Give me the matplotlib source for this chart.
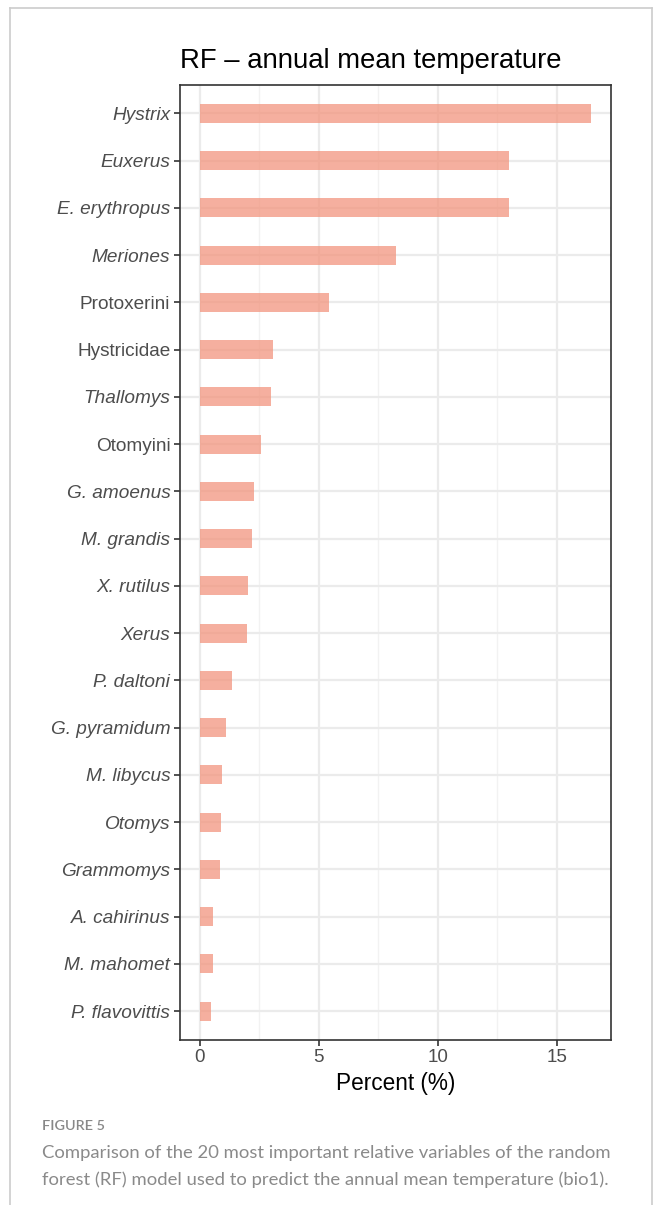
import numpy as np
import matplotlib.pyplot as plt
from matplotlib.lines import Line2D

# variable names, top to bottom as in the figure
taxa = ['Hystrix', 'Euxerus', 'E. erythropus', 'Meriones', 'Protoxerini',
        'Hystricidae', 'Thallomys', 'Otomyini', 'G. amoenus', 'M. grandis',
        'X. rutilus', 'Xerus', 'P. daltoni', 'G. pyramidum', 'M. libycus',
        'Otomys', 'Grammomys', 'A. cahirinus', 'M. mahomet', 'P. flavovittis']
# relative importance (%)
percent = [16.45, 12.98, 12.98, 8.24, 5.42,
           3.07, 2.98, 2.56, 2.27, 2.18,
           2.02, 1.97, 1.36, 1.09, 0.94,
           0.88, 0.84, 0.57, 0.57, 0.48]
# names that are not written in italics (higher taxa)
upright = ['Protoxerini', 'Hystricidae', 'Otomyini']
xticks = [0, 5, 10, 15]

plt.rcParams['font.family'] = ['Liberation Sans', 'DejaVu Sans']

fig = plt.figure(figsize=(6.54, 12.05), dpi=100)
ax = fig.add_axes([180 / 654, 1 - 1039.5 / 1205, 431 / 654, 954.5 / 1205])

ypos = np.arange(len(taxa))
ax.barh(ypos, percent, height=0.4, color='#F2917A', alpha=0.72,
        linewidth=0, zorder=3)

# ggplot style limits (5 % on x, 0.6 on discrete y)
xmax = max(percent)
pad = 0.05 * xmax
ax.set_xlim(-pad, xmax + pad)
ax.set_ylim(len(taxa) - 1 + 0.6, -0.6)

# grid: major + minor, theme_bw look
for v in xticks:
    ax.axvline(v, color='#EBEBEB', lw=1.6, zorder=1)
for v in [2.5, 7.5, 12.5]:
    ax.axvline(v, color='#F2F2F2', lw=1.0, zorder=1)
for y in ypos:
    ax.axhline(y, color='#EBEBEB', lw=1.6, zorder=1)

ax.set_xticks(xticks)
ax.set_xticklabels([str(t) for t in xticks], fontsize=13.5, color='#4D4D4D')
ax.set_yticks(ypos)
ax.set_yticklabels(taxa, fontsize=13.7, color='#4D4D4D')
for lab in ax.get_yticklabels():
    if lab.get_text() not in upright:
        lab.set_style('italic')
ax.tick_params(axis='both', length=4.5, width=1.2, color='#333333', pad=2.5)
for s in ax.spines.values():
    s.set_color('#333333')
    s.set_linewidth(1.2)

ax.set_xlabel('Percent (%)', fontsize=16.3, color='black', labelpad=4)
ax.set_title('RF \u2013 annual mean temperature', fontsize=19.8, loc='left',
             pad=12, color='black')

# page frame and caption around the figure
frame = dict(color='#CCCCCC', lw=1.2, transform=fig.transFigure)
fig.add_artist(Line2D([10 / 654, 10 / 654], [0, 1 - 8 / 1205], **frame))
fig.add_artist(Line2D([10 / 654, 652 / 654], [1 - 8 / 1205, 1 - 8 / 1205], **frame))
fig.add_artist(Line2D([652 / 654, 652 / 654], [0, 1 - 8 / 1205], **frame))

cap_font = ['Lato', 'DejaVu Sans']
fig.text(42 / 654, 1 - 1126 / 1205, 'FIGURE 5', fontsize=10.4, color='#888888',
         family=cap_font, va='center', weight='semibold')
caption = ['Comparison of the 20 most important relative variables of the random',
           'forest (RF) model used to predict the annual mean temperature (bio1).']
for i, line in enumerate(caption):
    fig.text(42 / 654, 1 - (1153 + 27 * i) / 1205, line, fontsize=13.3,
             color='#8A8A8A', family=cap_font, va='center')

fig.savefig('out.png', dpi=100)
